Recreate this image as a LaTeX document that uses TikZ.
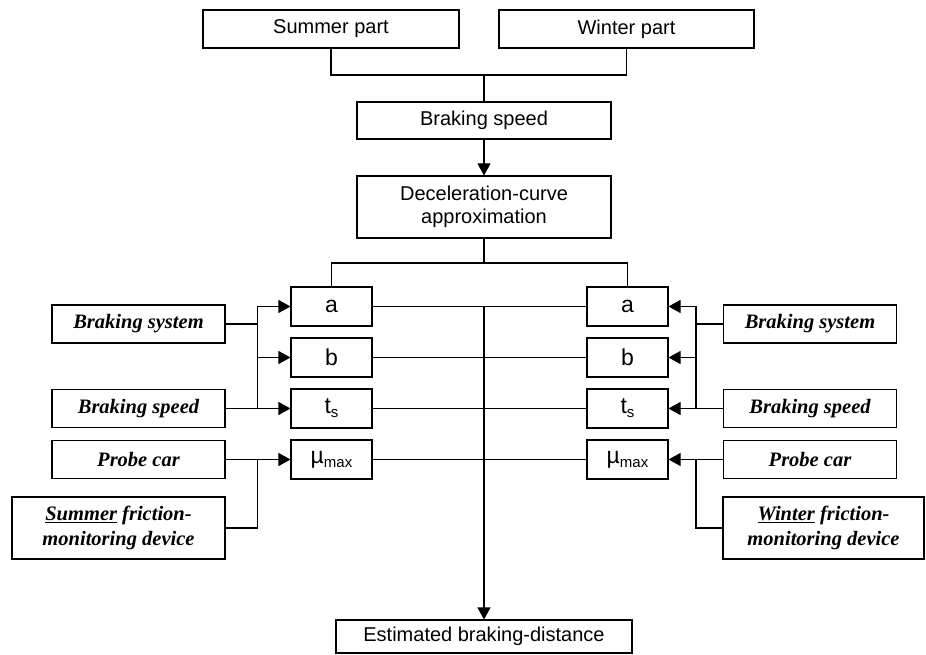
\documentclass[tikz,border=0pt]{standalone}
\usepackage{fontspec}
\setmainfont{Liberation Serif}
\setsansfont{Liberation Sans}
\usetikzlibrary{arrows.meta,calc}
\tikzset{
    block/.style = {draw, rectangle, line width=1.1pt, inner sep=0pt,
        minimum height=38pt,
        minimum width=254pt, align=center, font=\sffamily\fontsize{20}{23}\selectfont},
    param/.style = {block, minimum width=81pt, minimum height=39pt,
        font=\sffamily\fontsize{23}{23}\selectfont},
    source/.style = {block, minimum width=173pt,
        font=\rmfamily\bfseries\itshape\fontsize{20.5}{25}\selectfont},
    line/.style = {draw, line width=1.1pt},
    arrow/.style = {line, -{Triangle[length=12pt,width=13pt]}}
}
\newcommand{\sub}[2]{#1\raisebox{-0.35ex}{\fontsize{15}{15}\selectfont #2}}

\begin{document}
\begin{tikzpicture}[x=1pt,y=-1pt]
        \useasboundingbox (0,0) rectangle (926,655);
        \node [block, minimum width=256pt] (summer) at (331,29) {Summer part};
        \node [block, minimum width=255pt] (winter) at (626.5,29) {Winter part};
        \node [block, minimum height=37pt] (speed) at (484,120.5) {Braking speed};
        \node [block, minimum height=62pt] (decel) at (484,207) {Deceleration-curve\\approximation};
        \coordinate (merge) at (484,75);
        \draw [line] (summer.south) |- (merge) -| (winter.south);
        \draw [line] (merge) -- (speed.north);
        \draw [arrow] (speed) -- (decel);
        % parameter boxes, summer side and winter side
        \node [param] (la) at (331.5,306.5) {a};
        \node [param] (lb) at (331.5,357.5) {b};
        \node [param] (lts) at (331.5,408.5) {\sub{t}{s}};
        \node [param] (lmu) at (331.5,459.5) {\sub{µ}{max}};
        \node [param] (ra) at (627.5,306.5) {a};
        \node [param] (rb) at (627.5,357.5) {b};
        \node [param] (rts) at (627.5,408.5) {\sub{t}{s}};
        \node [param] (rmu) at (627.5,459.5) {\sub{µ}{max}};
        \coordinate (split) at (484,263);
        \draw [line] (decel.south) -- (split);
        \draw [line] (la.north) |- (split) -| (ra.north);
        \foreach \p in {a,b,ts,mu}
            \draw [line] (l\p.east) -- (r\p.west);
        \node [block, minimum width=296pt, minimum height=33pt] (est) at (484,636.5) {Estimated braking-distance};
        \draw [arrow] (la.east -| est.north) -- (est.north);
        % input data, summer side
        \node [source] (lsys) at (138.5,324) {Braking system};
        \node [source] (lspd) at (138.5,408.5) {Braking speed};
        \node [source] (lprobe) at (138.5,459.5) {Probe car};
        \node [source, minimum width=213pt, minimum height=62pt] (lfric) at (118.5,528) {\underline{Summer} friction-\\monitoring device};
        \coordinate (ltap) at (257.7,324);
        \draw [line] (lsys.east) -- (ltap);
        \draw [arrow] (ltap) |- (la);
        \draw [arrow] (ltap) |- (lb);
        \draw [line] (ltap) -- (ltap |- lts);
        \draw [arrow] (lspd) -- (lts);
        \draw [arrow] (lprobe) -- (lmu);
        \draw [line] (lfric.east) -| (ltap |- lmu);
        % input data, winter side
        \node [source] (rsys) at (810,324) {Braking system};
        \node [source] (rspd) at (810,408.5) {Braking speed};
        \node [source] (rprobe) at (810,459.5) {Probe car};
        \node [source, minimum width=201pt, minimum height=62pt] (rfric) at (823.5,528) {\underline{Winter} friction-\\monitoring device};
        \coordinate (rtap) at (696,324);
        \draw [line] (rsys.west) -- (rtap);
        \draw [arrow] (rtap) |- (ra);
        \draw [arrow] (rtap) |- (rb);
        \draw [line] (rtap) -- (rtap |- rts);
        \draw [arrow] (rspd) -- (rts);
        \draw [arrow] (rprobe) -- (rmu);
        \draw [line] (rfric.west) -| (rtap |- rmu);
\end{tikzpicture}
\end{document}
